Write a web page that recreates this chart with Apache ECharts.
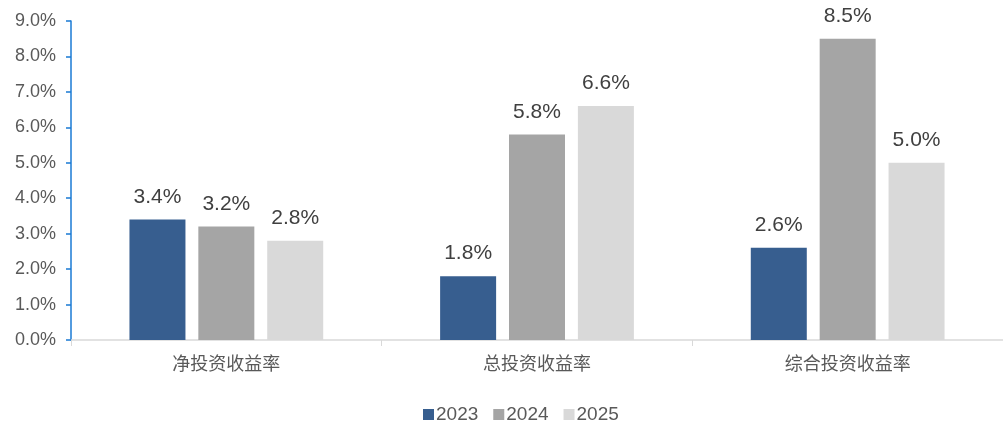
<!DOCTYPE html>
<html>
<head>
<meta charset="utf-8">
<style>
  html, body { margin: 0; padding: 0; background: #ffffff; }
  #chart { width: 1003px; height: 421px; }
</style>
<script src="https://cdn.jsdelivr.net/npm/echarts@6/dist/echarts.min.js"></script>
</head>
<body>
<div id="chart"></div>
<script>
// Investment return rates by year
const categories = ['净投资收益率', '总投资收益率', '综合投资收益率'];
const years = ['2023', '2024', '2025'];
const values2023 = [3.4, 1.8, 2.6];
const values2024 = [3.2, 5.8, 8.5];
const values2025 = [2.8, 6.6, 5.0];
const yTicks = [0, 1, 2, 3, 4, 5, 6, 7, 8, 9];

const colors = ['#375E8F', '#A5A5A5', '#D9D9D9'];
const seriesValues = [values2023, values2024, values2025];
const latin = 'Liberation Sans, Arial, sans-serif';

const chart = echarts.init(document.getElementById('chart'), null, { renderer: 'canvas' });

const series = years.map((y, i) => ({
  name: y,
  type: 'bar',
  data: seriesValues[i],
  barWidth: 56,
  barGap: '23%',
  itemStyle: { color: colors[i] },
  label: {
    show: true,
    position: 'top',
    distance: 12,
    formatter: p => p.value.toFixed(1) + '%',
    color: '#404040',
    fontSize: 21,
    fontFamily: latin
  }
}));

chart.setOption({
  animation: false,
  color: colors,
  grid: { left: 71, right: 0, top: 21, bottom: 81, containLabel: false },
  legend: {
    data: years,
    top: 400,
    left: 418,
    itemWidth: 11,
    itemHeight: 11,
    itemGap: 15,
    icon: 'rect',
    textStyle: { color: '#595959', fontSize: 19, fontFamily: latin, padding: [0, 0, 0, -3] }
  },
  xAxis: {
    type: 'category',
    data: categories,
    axisLine: { lineStyle: { color: '#D9D9D9', width: 1.5 } },
    axisTick: { show: true, alignWithLabel: false, length: 6, lineStyle: { color: '#D9D9D9' } },
    axisLabel: {
      color: '#595959',
      fontSize: 18,
      margin: 14,
      fontFamily: 'Noto Sans CJK SC, sans-serif'
    }
  },
  yAxis: {
    type: 'value',
    min: yTicks[0],
    max: yTicks[yTicks.length - 1],
    interval: 1,
    splitLine: { show: false },
    axisLine: { show: true, lineStyle: { color: '#1A7AD4', width: 1.5 } },
    axisTick: { show: true, inside: false, length: 5, lineStyle: { color: '#1A7AD4', width: 1.5 } },
    axisLabel: {
      color: '#595959',
      fontSize: 18,
      margin: 15,
      fontFamily: latin,
      formatter: v => v.toFixed(1) + '%'
    }
  },
  series: series
});
</script>
</body>
</html>
